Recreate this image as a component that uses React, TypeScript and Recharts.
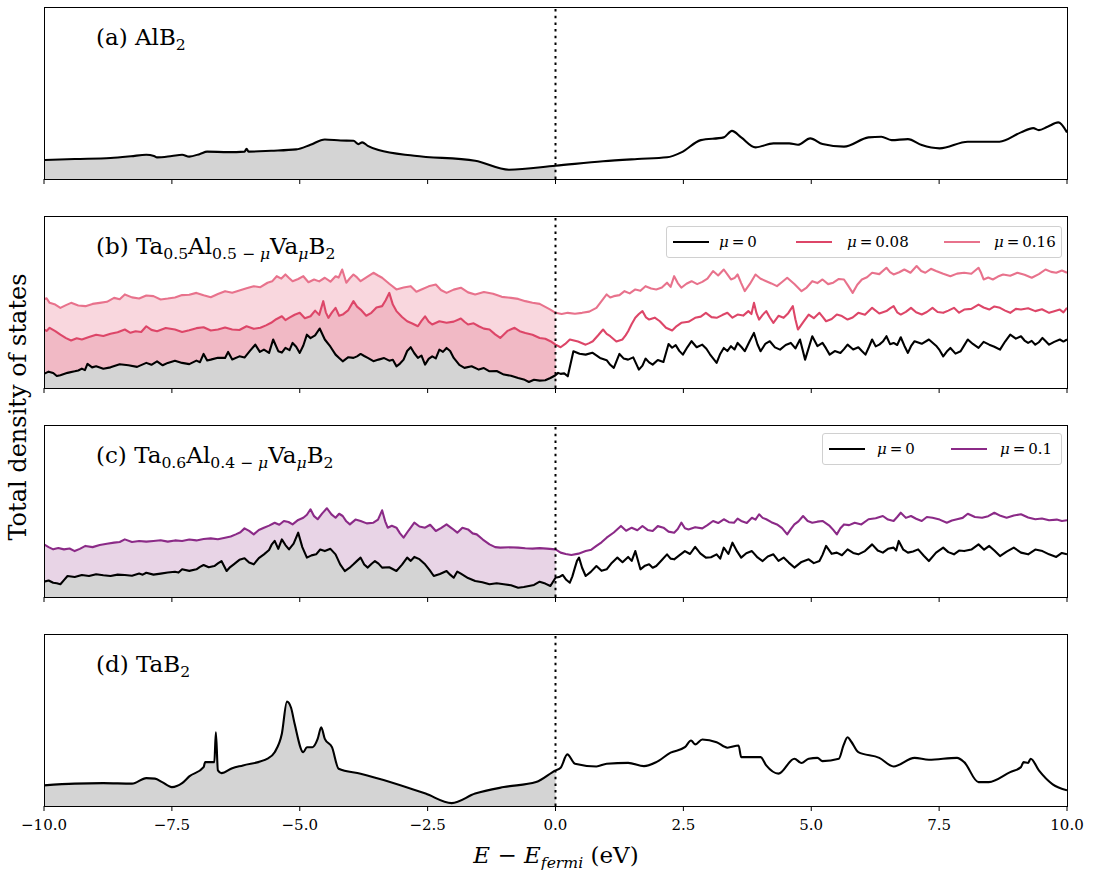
import React from "react";
import { ComposedChart, Line, Area, XAxis, YAxis, ReferenceLine } from "recharts";

type Pt = [number, number];

// energy ticks (eV)
const eTicks = [-10, -7.5, -5, -2.5, 0, 2.5, 5, 7.5, 10];

// DOS, as % of panel height, [E, dos]
const alB2: Pt[] = [
  [-10, 11], [-9.4, 11.6], [-8.7, 12.2], [-8.3, 13.2], [-8.0, 14.1], [-7.85, 13.4], [-7.79, 12.6], [-7.5, 13.4], [-7.3, 14.1],
  [-7.16, 13.0], [-6.95, 14.6], [-6.81, 15.9], [-6.4, 15.6], [-6.08, 15.9], [-6.04, 17.6], [-6.0, 15.9], [-5.56, 16.4], [-5.07, 17.2],
  [-4.79, 19.9], [-4.51, 23.0], [-4.2, 22.4], [-3.95, 22.2], [-3.85, 20.3], [-3.78, 21.3], [-3.67, 19.3], [-3.46, 16.8],
  [-2.76, 13.5], [-1.57, 10.6], [-0.91, 5.4], [0, 7.7], [0.93, 10.3], [1.6, 11.6], [2.18, 12.6], [2.46, 15.5],
  [2.84, 22.6], [3.29, 24.2], [3.45, 28.0], [3.63, 24.2], [3.91, 18.4], [4.26, 20.7], [4.57, 20.7], [4.74, 19.9],
  [4.98, 23.6], [5.22, 20.3], [5.64, 18.8], [6.12, 24.2], [6.37, 24.6], [6.57, 22.6], [6.89, 23.2], [7.16, 19.7],
  [7.51, 17.8], [8.06, 21.7], [8.68, 21.7], [9.1, 27.1], [9.34, 29.6], [9.45, 28.4], [9.62, 30.4], [9.83, 32.9], [10, 27.1],
];

const taB2: Pt[] = [
  [-10, 12], [-9.4, 13], [-8.84, 13.3], [-8.28, 13], [-8.0, 16.2], [-7.83, 15.9], [-7.69, 13.9], [-7.5, 11],
  [-7.3, 13.3], [-7.16, 17.2], [-6.88, 22.6], [-6.85, 25.5], [-6.67, 25.5], [-6.64, 42.9], [-6.6, 20.7], [-6.53, 19.1],
  [-6.32, 22], [-6.11, 23.6], [-5.63, 27.5], [-5.49, 31.3], [-5.35, 42], [-5.25, 60.7], [-5.17, 57.1], [-5.1, 47.8],
  [-4.93, 31.3], [-4.86, 34.2], [-4.75, 34.2], [-4.65, 39], [-4.58, 45.8], [-4.51, 39], [-4.37, 34.2], [-4.24, 21.7],
  [-3.81, 18.8], [-2.54, 7.2], [-2.03, 1.7], [-1.57, 7.2], [-1.01, 11], [-0.38, 13.9], [0, 20.7], [0.1, 22.2],
  [0.23, 30], [0.38, 24.6], [0.8, 23], [1.0, 24.6], [1.42, 25.1], [1.73, 23.2], [1.97, 25.5], [2.25, 31],
  [2.53, 34.2], [2.65, 38.1], [2.73, 35.8], [2.87, 38.7], [3.15, 37.1], [3.36, 33.9], [3.58, 35.2], [3.63, 28.4],
  [4.01, 28.4], [4.12, 23.6], [4.36, 18.8], [4.67, 27.5], [4.81, 25], [4.95, 27.5], [5.12, 28], [5.22, 26.1],
  [5.54, 27.5], [5.63, 35.2], [5.71, 40], [5.78, 37.5], [5.92, 31.3], [6.33, 28], [6.61, 23], [7.02, 28],
  [7.3, 26.9], [7.85, 28], [7.99, 25.5], [8.27, 13.9], [8.47, 13.9], [8.89, 19.7], [9.1, 22.6], [9.15, 25.5],
  [9.24, 25.1], [9.29, 27.5], [9.45, 20.7], [9.72, 12.6], [10, 9.1],
];

// Ta0.5Al0.5-muVamuB2
const b_mu0: Pt[] = [
  [-10, 8.2], [-9.91, 9.5], [-9.82, 8.7], [-9.75, 7.0], [-9.68, 7.4], [-9.54, 8.8], [-9.4, 9.7], [-9.33, 10.2],
  [-9.26, 11.3], [-9.2, 10.4], [-9.15, 14], [-9.06, 12.0], [-8.98, 12.6], [-8.84, 11.2], [-8.7, 12], [-8.52, 13.8],
  [-8.35, 13.2], [-8.18, 12.3], [-8.0, 14.6], [-7.9, 13.5], [-7.79, 15.5], [-7.68, 13.2], [-7.58, 14.6], [-7.44, 15.8],
  [-7.3, 14.6], [-7.16, 13.9], [-7.02, 15.9], [-6.95, 15.0], [-6.88, 19.8], [-6.81, 16.0], [-6.74, 16.5], [-6.6, 17.6],
  [-6.46, 17.5], [-6.4, 21.0], [-6.32, 16.6], [-6.18, 18.4], [-6.08, 17.7], [-5.97, 21.7], [-5.87, 25.2], [-5.78, 21.0],
  [-5.7, 22.3], [-5.6, 20.4], [-5.52, 28.2], [-5.42, 21.4], [-5.35, 20.6], [-5.28, 23.3], [-5.2, 22.0], [-5.14, 26.2],
  [-5.07, 24.0], [-5.0, 20.4], [-4.93, 24.7], [-4.86, 31], [-4.79, 29], [-4.7, 30.6], [-4.61, 34.6], [-4.51, 28.2],
  [-4.4, 24.0], [-4.3, 19.4], [-4.23, 17.4], [-4.16, 15.5], [-4.05, 17.9], [-3.95, 17.5], [-3.88, 18.4], [-3.81, 19.8],
  [-3.74, 18.6], [-3.67, 17.5], [-3.56, 15.6], [-3.46, 16.5], [-3.35, 17.4], [-3.25, 15.9], [-3.18, 16.4], [-3.11, 12.6],
  [-3.04, 14.2], [-2.97, 16.5], [-2.9, 21.5], [-2.83, 23.7], [-2.76, 20.2], [-2.69, 17.5], [-2.62, 18.8], [-2.55, 13.6],
  [-2.48, 16.9], [-2.41, 18.4], [-2.34, 17.2], [-2.27, 22.3], [-2.2, 21.0], [-2.13, 23.3], [-2.06, 21.5], [-1.99, 17.5],
  [-1.88, 13.4], [-1.78, 11.7], [-1.64, 12.6], [-1.5, 10.7], [-1.4, 11.6], [-1.29, 9.7], [-1.15, 9.9], [-1.01, 7.8],
  [-0.87, 7.1], [-0.73, 5.8], [-0.62, 5.0], [-0.52, 3.5], [-0.42, 4.8], [-0.31, 4.3], [-0.2, 4.5], [-0.1, 5.8], [0, 7.4],
  [0.05, 8.8], [0.1, 8.2], [0.17, 8.5], [0.24, 6.8], [0.35, 21.4], [0.47, 19.9], [0.59, 19.4], [0.72, 20.5],
  [0.87, 17.5], [1.0, 16.2], [1.07, 13.5], [1.14, 11.7], [1.25, 19.8], [1.33, 17.2], [1.42, 16.5], [1.52, 17.8],
  [1.63, 10.7], [1.7, 13.0], [1.76, 17.1], [1.83, 14.9], [1.9, 13.6], [2.0, 16.3], [2.11, 15.1], [2.21, 25.6],
  [2.28, 23.4], [2.35, 24.9], [2.42, 21.6], [2.49, 19.4], [2.58, 23.8], [2.66, 27.2], [2.76, 23.7], [2.87, 25.2],
  [2.95, 22.8], [3.02, 19.6], [3.15, 14.6], [3.22, 19.8], [3.29, 23.3], [3.36, 21.5], [3.43, 24.3], [3.5, 22.4],
  [3.56, 26.2], [3.63, 24.0], [3.7, 21.4], [3.8, 27.5], [3.88, 32], [3.95, 25.3], [4.01, 21.4], [4.1, 25.6],
  [4.19, 27.2], [4.29, 23.6], [4.39, 22.3], [4.5, 25.0], [4.6, 26.2], [4.69, 23.0], [4.78, 28.2], [4.88, 16.5],
  [5.02, 30.1], [5.12, 24.4], [5.22, 26.2], [5.29, 23.0], [5.36, 19.4], [5.46, 21.5], [5.57, 20.4], [5.64, 22.6],
  [5.71, 25.2], [5.82, 22.4], [5.92, 23.7], [5.99, 21.5], [6.06, 19.4], [6.13, 24.0], [6.19, 28.2], [6.26, 24.2],
  [6.33, 25.2], [6.4, 27.0], [6.47, 30.1], [6.54, 25.5], [6.61, 26.2], [6.68, 25.0], [6.75, 29.5], [6.82, 24.6],
  [6.89, 20.4], [6.95, 24.3], [7.02, 27.2], [7.16, 25.7], [7.3, 28.2], [7.44, 24.6], [7.51, 22.0], [7.58, 18.4],
  [7.65, 21.2], [7.72, 23.3], [7.82, 20.0], [7.92, 21.4], [7.99, 24.8], [8.06, 28.2], [8.16, 25.6], [8.27, 23.3],
  [8.37, 26.8], [8.48, 25.2], [8.58, 24.0], [8.69, 22.3], [8.79, 27.0], [8.89, 31], [9.0, 28.7], [9.1, 30.1],
  [9.17, 27.6], [9.24, 26.2], [9.31, 27.4], [9.38, 25.2], [9.45, 26.6], [9.52, 29.1], [9.58, 27.3], [9.65, 25.2],
  [9.75, 26.8], [9.86, 28.2], [9.93, 27.0], [10, 28.2],
];

const b_mu008: Pt[] = [
  [-10, 34], [-9.95, 33.2], [-9.89, 35], [-9.78, 33.1], [-9.68, 31], [-9.57, 29.0], [-9.47, 27.6], [-9.36, 28.9],
  [-9.26, 28.2], [-9.12, 29.6], [-8.98, 31], [-8.84, 30.2], [-8.7, 31.5], [-8.56, 32.4], [-8.42, 34], [-8.31, 32.1],
  [-8.21, 33], [-8.1, 32.6], [-8.0, 35.9], [-7.9, 33.8], [-7.79, 33], [-7.62, 34.9], [-7.44, 34], [-7.3, 32.6],
  [-7.16, 33.6], [-7.02, 34.8], [-6.88, 35.3], [-6.74, 33.4], [-6.6, 34], [-6.46, 35.2], [-6.32, 34], [-6.18, 33.7],
  [-6.04, 35.9], [-5.9, 34.4], [-5.77, 35], [-5.66, 36.4], [-5.56, 37.9], [-5.46, 40.0], [-5.35, 41.7], [-5.28, 39.5],
  [-5.21, 40.8], [-5.1, 42.6], [-5.0, 43.7], [-4.9, 40.6], [-4.79, 41.7], [-4.7, 45.0], [-4.62, 42.5], [-4.54, 50.5],
  [-4.49, 44.0], [-4.44, 40.8], [-4.37, 44.0], [-4.3, 46.6], [-4.23, 42.0], [-4.16, 42.7], [-4.05, 45.3], [-3.95, 50.5],
  [-3.88, 47.3], [-3.81, 45.6], [-3.7, 42.0], [-3.6, 43.7], [-3.5, 46.8], [-3.39, 47.6], [-3.32, 51.0], [-3.25, 55.3],
  [-3.18, 48.5], [-3.11, 44.7], [-3.0, 41.3], [-2.9, 38.8], [-2.8, 37.5], [-2.69, 35.9], [-2.62, 39.0], [-2.55, 41.7],
  [-2.48, 38.6], [-2.41, 36.9], [-2.27, 38.8], [-2.13, 37.9], [-1.99, 38.6], [-1.85, 40.4], [-1.78, 38.5], [-1.71, 36.9],
  [-1.6, 37.6], [-1.5, 35.9], [-1.4, 34.5], [-1.29, 34], [-1.18, 31.2], [-1.08, 29.1], [-0.94, 33.2], [-0.8, 35],
  [-0.7, 33.0], [-0.59, 32], [-0.45, 31.0], [-0.31, 29.1], [-0.2, 28.6], [-0.1, 27.2], [0, 25.2],
  [0.1, 23.7], [0.19, 25.6], [0.28, 28.2], [0.44, 27.0], [0.59, 25.2], [0.66, 26.1], [0.73, 27.2], [0.83, 30.5],
  [0.93, 34], [1.0, 31.5], [1.07, 30.1], [1.19, 27.0], [1.31, 28.2], [1.37, 30.6], [1.42, 33], [1.49, 37.2],
  [1.56, 40.8], [1.63, 43.0], [1.7, 44.7], [1.77, 41.0], [1.83, 39.8], [1.94, 40.9], [2.04, 38.8], [2.16, 35.0],
  [2.28, 33.4], [2.37, 36.0], [2.46, 37.9], [2.6, 38.5], [2.73, 40.8], [2.84, 41.5], [2.94, 43.7], [3.05, 41.2],
  [3.15, 40.8], [3.26, 42.4], [3.36, 43.7], [3.46, 40.9], [3.56, 42.7], [3.67, 42.1], [3.77, 44.7], [3.83, 43.0],
  [3.88, 49.5], [3.93, 43.5], [3.98, 39.8], [4.05, 42.5], [4.12, 44.7], [4.19, 41.0], [4.26, 37.9], [4.36, 42.0],
  [4.46, 40.8], [4.55, 43.5], [4.64, 47.6], [4.69, 40.0], [4.74, 34], [4.85, 38.6], [4.95, 42.7], [5.05, 40.6],
  [5.16, 43.7], [5.22, 41.5], [5.29, 38.8], [5.4, 40.1], [5.5, 42.7], [5.6, 41.8], [5.71, 39.8], [5.81, 41.0],
  [5.92, 43.7], [6.05, 42.6], [6.19, 46.6], [6.33, 43.3], [6.47, 44.7], [6.54, 46.3], [6.61, 47.6], [6.68, 44.0],
  [6.75, 42.7], [6.85, 44.3], [6.95, 46.6], [7.05, 44.0], [7.16, 42.7], [7.26, 44.2], [7.37, 46.6], [7.47, 44.2],
  [7.58, 43.7], [7.68, 45.0], [7.79, 46.6], [7.89, 43.8], [7.99, 45.6], [8.13, 46.0], [8.27, 48.5], [8.37, 46.8],
  [8.48, 45.6], [8.58, 47.4], [8.69, 46.6], [8.79, 45.0], [8.89, 43.7], [9.0, 46.0], [9.1, 45.6], [9.24, 46.4],
  [9.38, 44.7], [9.51, 45.8], [9.65, 43.7], [9.75, 44.6], [9.86, 45.6], [9.93, 44.0], [10, 46.6],
];

const b_mu016: Pt[] = [
  [-10, 51.5], [-9.95, 52.2], [-9.89, 49.5], [-9.78, 48.5], [-9.68, 46.6], [-9.57, 48.2], [-9.47, 49.5], [-9.33, 48.0],
  [-9.19, 47.6], [-9.05, 48.9], [-8.91, 49.5], [-8.77, 50.1], [-8.63, 52.4], [-8.52, 51.6], [-8.42, 54.4], [-8.28, 52.7],
  [-8.14, 52], [-8.0, 53.8], [-7.86, 53.4], [-7.72, 51.5], [-7.58, 52], [-7.44, 52.6], [-7.3, 54], [-7.16, 54.2],
  [-7.02, 55.3], [-6.88, 53.9], [-6.74, 52.8], [-6.6, 54.6], [-6.46, 56.3], [-6.32, 55.4], [-6.18, 56.7], [-6.04, 58.0],
  [-5.9, 59.2], [-5.77, 58.6], [-5.63, 61.2], [-5.54, 62.0], [-5.45, 65], [-5.36, 63.6], [-5.28, 66], [-5.21, 64.0],
  [-5.14, 62.1], [-5.03, 63.4], [-4.93, 65], [-4.83, 61.5], [-4.72, 63.1], [-4.62, 62.0], [-4.51, 64.1], [-4.4, 61.8],
  [-4.3, 65], [-4.24, 64.2], [-4.17, 68.9], [-4.09, 61.2], [-4.02, 63.8], [-3.95, 66], [-3.88, 64.3], [-3.81, 62.1],
  [-3.69, 64.5], [-3.56, 67], [-3.47, 65.4], [-3.39, 64.1], [-3.25, 60.6], [-3.11, 57.3], [-2.97, 58.4], [-2.83, 59.2],
  [-2.72, 56.0], [-2.62, 57.3], [-2.48, 59.1], [-2.34, 60.2], [-2.24, 57.0], [-2.13, 55.3], [-1.99, 57.2], [-1.85, 58.3],
  [-1.71, 55.6], [-1.57, 54.4], [-1.4, 55.8], [-1.22, 54.8], [-1.05, 53.0], [-0.87, 52.4], [-0.73, 51.8], [-0.59, 50.5],
  [-0.45, 49.6], [-0.31, 48.9], [-0.2, 47.2], [-0.1, 45.6], [0, 43.7],
  [0.12, 43.0], [0.24, 43.7], [0.38, 43.2], [0.52, 43.7], [0.66, 44.4], [0.8, 46.6], [0.9, 50.5], [1.0, 54.4],
  [1.07, 52.6], [1.14, 53.4], [1.25, 54.0], [1.35, 56.3], [1.45, 55.0], [1.56, 57.3], [1.66, 56.5], [1.76, 59.2],
  [1.87, 57.8], [1.97, 57.3], [2.08, 58.4], [2.18, 61.2], [2.25, 58.8], [2.32, 65], [2.39, 61.0], [2.46, 58.3],
  [2.56, 60.6], [2.66, 62.1], [2.77, 60.4], [2.87, 61.7], [2.97, 63.6], [3.08, 68], [3.18, 65.4], [3.29, 68.9],
  [3.36, 66.0], [3.43, 63.1], [3.5, 63.9], [3.56, 66], [3.63, 61.0], [3.7, 56.3], [3.8, 60.5], [3.91, 66],
  [4.01, 63.5], [4.12, 62.1], [4.22, 60.8], [4.33, 59.2], [4.43, 61.6], [4.53, 64.1], [4.67, 60.5], [4.81, 56.3],
  [4.91, 58.4], [5.02, 62.1], [5.12, 61.0], [5.22, 63.1], [5.33, 60.4], [5.43, 61.2], [5.54, 63.4], [5.64, 63.1],
  [5.72, 59.5], [5.81, 55.3], [5.9, 60.0], [5.99, 63.1], [6.09, 64.4], [6.19, 67], [6.33, 66.2], [6.47, 69.9],
  [6.54, 67.4], [6.61, 66], [6.72, 67.3], [6.82, 68.9], [6.94, 67.0], [7.06, 70.9], [7.15, 68.0], [7.23, 67],
  [7.34, 69.3], [7.44, 68], [7.58, 66.4], [7.72, 65], [7.85, 66.5], [7.99, 67], [8.13, 66.4], [8.27, 69.9],
  [8.32, 67.0], [8.37, 63.1], [8.46, 64.2], [8.55, 63.1], [8.65, 64.8], [8.75, 66], [8.89, 65.3], [9.03, 67],
  [9.17, 65.8], [9.31, 64.1], [9.45, 66.2], [9.58, 68.9], [9.69, 67.5], [9.79, 67], [9.9, 68.3], [10, 67],
];

// Ta0.6Al0.4-muVamuB2
const c_mu0: Pt[] = [
  [-10, 8.9], [-9.91, 9.6], [-9.82, 8.3], [-9.75, 8.0], [-9.68, 7.4], [-9.61, 9.8], [-9.54, 12.2], [-9.4, 11.6],
  [-9.26, 12.8], [-9.12, 12.2], [-8.98, 13.2], [-8.84, 12.6], [-8.7, 12.2], [-8.56, 13.0], [-8.42, 12.8], [-8.28, 12.4],
  [-8.14, 13.6], [-8.07, 13.0], [-8.0, 14.1], [-7.86, 13.0], [-7.72, 13.6], [-7.58, 14.2], [-7.44, 14.7], [-7.37, 14.2],
  [-7.3, 16.1], [-7.16, 15.2], [-7.02, 16.1], [-6.95, 17.5], [-6.88, 18.6], [-6.78, 17.3], [-6.67, 18], [-6.6, 19.5],
  [-6.53, 20.9], [-6.43, 15.1], [-6.36, 17.4], [-6.29, 19], [-6.18, 21.6], [-6.08, 22.5], [-5.99, 20.0], [-5.9, 19],
  [-5.8, 22.6], [-5.7, 24.8], [-5.6, 27.3], [-5.55, 30.4], [-5.49, 32.6], [-5.42, 28.0], [-5.35, 33.5], [-5.28, 30.2],
  [-5.21, 27.7], [-5.12, 31.0], [-5.03, 37.4], [-4.95, 29.0], [-4.86, 22.9], [-4.77, 24.2], [-4.68, 24.8], [-4.6, 27.6],
  [-4.51, 26.7], [-4.4, 28.0], [-4.3, 24.8], [-4.21, 19.0], [-4.12, 15.1], [-4.03, 16.9], [-3.95, 19], [-3.88, 21.0],
  [-3.81, 22.9], [-3.74, 18.9], [-3.67, 17.1], [-3.6, 19.2], [-3.53, 20.9], [-3.46, 19.4], [-3.39, 17.1], [-3.25, 17.3],
  [-3.11, 15.1], [-3.0, 18.8], [-2.9, 22.9], [-2.83, 21.0], [-2.76, 23.3], [-2.66, 22.0], [-2.55, 19], [-2.46, 15.6],
  [-2.38, 12.2], [-2.26, 13.4], [-2.13, 15.1], [-2.06, 13.0], [-1.99, 11.2], [-1.92, 14.8], [-1.85, 13.6], [-1.71, 11.0],
  [-1.57, 9.3], [-1.43, 8.6], [-1.29, 7.4], [-1.15, 8.0], [-1.01, 7.4], [-0.87, 6.8], [-0.73, 5.4], [-0.62, 5.8],
  [-0.52, 6.4], [-0.42, 7.0], [-0.31, 8.9], [-0.2, 7.8], [-0.1, 6.4], [0, 11.2],
  [0.07, 11.6], [0.14, 12.8], [0.21, 10.0], [0.28, 8.3], [0.33, 12.0], [0.38, 17.1], [0.42, 21.0], [0.46, 22.9],
  [0.52, 17.0], [0.59, 12.2], [0.69, 14.6], [0.8, 18], [0.9, 15.2], [1.0, 16.1], [1.1, 19.8], [1.21, 22.9],
  [1.31, 20.2], [1.42, 23.3], [1.49, 21.0], [1.56, 26.7], [1.66, 16.1], [1.75, 18.2], [1.83, 19], [1.9, 17.0],
  [1.97, 18], [2.08, 21.5], [2.18, 24.8], [2.25, 22.3], [2.32, 21.9], [2.42, 24.2], [2.53, 26.7], [2.63, 25.0],
  [2.73, 29.1], [2.83, 25.4], [2.94, 22.9], [3.04, 23.1], [3.15, 24.8], [3.22, 22.3], [3.29, 28.7], [3.38, 25.0],
  [3.46, 31.6], [3.55, 26.5], [3.63, 22.9], [3.73, 25.4], [3.84, 26.7], [3.95, 23.0], [4.05, 20.9], [4.15, 23.5],
  [4.26, 24.8], [4.36, 21.0], [4.46, 22.9], [4.56, 20.0], [4.67, 17.1], [4.81, 20.4], [4.95, 21.9], [5.05, 19.7],
  [5.16, 20.9], [5.22, 24.5], [5.29, 29.7], [5.4, 25.1], [5.5, 25.8], [5.6, 24.3], [5.71, 27.7], [5.82, 25.6],
  [5.92, 24.8], [6.05, 26.7], [6.19, 30.6], [6.3, 27.0], [6.4, 25.8], [6.5, 28.0], [6.61, 28.7], [6.66, 27.0],
  [6.71, 32.6], [6.8, 27.5], [6.89, 25.8], [6.99, 26.5], [7.09, 27.7], [7.2, 24.0], [7.3, 20.9], [7.44, 25.8],
  [7.58, 28.7], [7.68, 26.1], [7.79, 24.8], [7.89, 27.0], [7.99, 26.7], [8.13, 27.6], [8.27, 30.6], [8.38, 27.5],
  [8.48, 29.7], [8.58, 27.0], [8.69, 23.8], [8.82, 26.4], [8.96, 28.7], [9.1, 25.8], [9.24, 24.8], [9.38, 27.6],
  [9.52, 26.7], [9.65, 24.8], [9.79, 23.3], [9.9, 25.6], [10, 24.8],
];

const c_mu01: Pt[] = [
  [-10, 30.6], [-9.91, 29.0], [-9.82, 27.7], [-9.72, 28.5], [-9.61, 27.7], [-9.5, 28.2], [-9.4, 26.7], [-9.3, 28.0],
  [-9.19, 29.7], [-9.05, 29.0], [-8.91, 30.2], [-8.77, 31.0], [-8.63, 31.6], [-8.52, 32.0], [-8.42, 33.5], [-8.28, 32.0],
  [-8.14, 32.6], [-8.0, 32.2], [-7.86, 32.6], [-7.72, 33.0], [-7.58, 32.2], [-7.44, 32.9], [-7.3, 32.6], [-7.16, 33.4],
  [-7.02, 32.9], [-6.88, 33.7], [-6.74, 34.1], [-6.6, 33.6], [-6.46, 34.5], [-6.35, 35.2], [-6.25, 36.4], [-6.16, 37.6],
  [-6.08, 39.9], [-5.99, 38.4], [-5.9, 36.4], [-5.8, 39.0], [-5.7, 40.3], [-5.6, 41.5], [-5.49, 43.2], [-5.4, 42.0],
  [-5.31, 44.2], [-5.22, 43.6], [-5.14, 42.2], [-5.03, 44.8], [-4.93, 46.1], [-4.86, 47.8], [-4.79, 51], [-4.72, 47.0],
  [-4.65, 45.2], [-4.56, 48.6], [-4.47, 51.6], [-4.38, 48.0], [-4.3, 46.1], [-4.23, 48.4], [-4.16, 47.1], [-4.09, 44.0],
  [-4.02, 42.2], [-3.91, 45.0], [-3.81, 44.2], [-3.69, 42.8], [-3.56, 43.2], [-3.47, 45.0], [-3.39, 50.4], [-3.33, 44.0],
  [-3.28, 40.3], [-3.2, 41.4], [-3.11, 40.3], [-3.04, 37.0], [-2.97, 34.5], [-2.87, 38.8], [-2.76, 43.2], [-2.66, 41.0],
  [-2.55, 40.3], [-2.45, 42.0], [-2.34, 38.4], [-2.24, 40.0], [-2.13, 42.2], [-2.02, 39.8], [-1.92, 37.4], [-1.82, 40.2],
  [-1.71, 39.3], [-1.62, 37.0], [-1.54, 36.4], [-1.42, 33.4], [-1.29, 30.6], [-1.18, 29.0], [-1.08, 28.7], [-0.9, 28.9],
  [-0.73, 28.7], [-0.59, 28.3], [-0.45, 28.1], [-0.31, 28.4], [-0.17, 28.1], [0, 27.7],
  [0.1, 25.8], [0.2, 25.0], [0.31, 24.4], [0.45, 25.2], [0.59, 26.7], [0.7, 27.5], [0.8, 29.7], [0.9, 31.8],
  [1.0, 34.5], [1.14, 37.5], [1.28, 41.3], [1.38, 38.5], [1.49, 40.3], [1.6, 38.8], [1.7, 41.3], [1.8, 39.0],
  [1.9, 38.4], [2.0, 41.2], [2.11, 40.3], [2.21, 38.0], [2.32, 37.4], [2.39, 39.5], [2.46, 43.2], [2.53, 40.0],
  [2.6, 39.3], [2.73, 40.6], [2.87, 39.9], [2.97, 41.8], [3.08, 44.2], [3.18, 43.0], [3.29, 45.2], [3.39, 43.5],
  [3.49, 43.2], [3.56, 45.6], [3.63, 44.2], [3.74, 43.0], [3.84, 46.1], [3.91, 45.0], [3.98, 48.1], [4.05, 46.0],
  [4.12, 45.2], [4.22, 43.5], [4.33, 42.2], [4.43, 40.0], [4.53, 36.4], [4.6, 39.5], [4.67, 42.2], [4.75, 44.0],
  [4.84, 47.1], [4.93, 44.2], [5.02, 43.2], [5.12, 43.8], [5.22, 44.2], [5.29, 42.8], [5.36, 41.3], [5.43, 39.0],
  [5.5, 36.4], [5.57, 40.0], [5.64, 42.2], [5.74, 41.8], [5.85, 43.2], [5.98, 42.2], [6.12, 45.2], [6.26, 45.8],
  [6.4, 47.1], [6.5, 45.0], [6.61, 44.2], [6.68, 46.5], [6.75, 49], [6.85, 46.0], [6.95, 47.1], [7.05, 45.5],
  [7.16, 44.2], [7.26, 46.5], [7.37, 46.1], [7.51, 45.0], [7.65, 43.2], [7.75, 44.5], [7.85, 45.2], [7.96, 46.0],
  [8.06, 48.4], [8.2, 46.5], [8.34, 46.1], [8.46, 47.0], [8.58, 49], [8.7, 47.2], [8.82, 46.1], [8.96, 47.4],
  [9.1, 48.1], [9.24, 46.2], [9.38, 45.2], [9.51, 45.6], [9.65, 44.6], [9.8, 45.0], [9.9, 44.2], [10, 44.6],
];

const FONT = "'DejaVu Serif', serif";
const GRAY = "#d4d4d4";

type Series = { pts: Pt[]; color: string; fill?: string };
type Curve = "linear" | "monotone";

const rows = (pts: Pt[]) => pts.map(([e, v]) => ({ e, v }));
const occupied = (pts: Pt[]) => rows(pts.filter(([e]) => e <= 0));
const fmtTick = (v: number) => (v < 0 ? "\u2212" + Math.abs(v).toFixed(1) : v.toFixed(1));

function Sub({ children }: { children: React.ReactNode }) {
  return <span style={{ fontSize: "0.68em", position: "relative", top: "0.3em" }}>{children}</span>;
}

function Panel({ top, series, labels, curve = "linear" }: { top: number; series: Series[]; labels?: boolean; curve?: Curve }) {
  // chart div starts 7px above the plot frame
  return (
    <div style={{ position: "absolute", left: 0, top: top - 7, width: 1095, height: 210 }}>
      <ComposedChart width={1095} height={210} margin={{ top: 7, right: 28, bottom: 0, left: 44 }}>
        <XAxis
          type="number"
          dataKey="e"
          domain={[-10, 10]}
          ticks={eTicks}
          interval={0}
          allowDataOverflow
          axisLine={false}
          tickLine={{ stroke: "#000", strokeWidth: 1 }}
          tickSize={5}
          tickMargin={8}
          height={31}
          tickFormatter={labels ? fmtTick : () => ""}
          tick={{ fill: "#000", fontSize: 15, fontFamily: FONT }}
        />
        <YAxis type="number" domain={[0, 100]} hide allowDataOverflow />
        {series
          .slice()
          .reverse()
          .map((s, i) => (
            <Area
              key={"f" + i}
              data={occupied(s.pts)}
              dataKey="v"
              type={curve}
              stroke="none"
              fill={s.fill}
              fillOpacity={1}
              isAnimationActive={false}
            />
          ))}
        {series.map((s, i) => (
          <Line
            key={"l" + i}
            data={rows(s.pts)}
            dataKey="v"
            type={curve}
            stroke={s.color}
            strokeWidth={2.1}
            strokeLinejoin="round"
            dot={false}
            isAnimationActive={false}
          />
        ))}
        <ReferenceLine x={0} stroke="#000" strokeWidth={2} strokeDasharray="2.5 4.2" />
      </ComposedChart>
      <div
        style={{
          position: "absolute",
          left: 44,
          top: 7,
          width: 1024,
          height: 173,
          border: "1px solid #000",
          boxSizing: "border-box",
          pointerEvents: "none",
        }}
      />
    </div>
  );
}

function Title({ top, children }: { top: number; children: React.ReactNode }) {
  return (
    <div style={{ position: "absolute", left: 96, top: top + 19, fontSize: 23, fontFamily: FONT, whiteSpace: "nowrap", lineHeight: 1 }}>
      {children}
    </div>
  );
}

function LegendBox({ left, top, width, items }: { left: number; top: number; width: number; items: { color: string; label: string; h: number; t: number }[] }) {
  return (
    <div
      style={{
        position: "absolute",
        left,
        top,
        width,
        height: 32,
        border: "1px solid #d0d0d0",
        borderRadius: 3,
        background: "rgba(255,255,255,0.85)",
        boxSizing: "border-box",
        fontFamily: FONT,
        fontSize: 15,
      }}
    >
      {items.map((it) => (
        <React.Fragment key={it.label}>
          <div style={{ position: "absolute", left: it.h, top: 14, width: 36, height: 0, borderTop: `2px solid ${it.color}` }} />
          <div style={{ position: "absolute", left: it.t, top: 6, whiteSpace: "nowrap", lineHeight: 1.2 }}>
            <i>μ</i>
            {"\u2009=\u2009" + it.label}
          </div>
        </React.Fragment>
      ))}
    </div>
  );
}

export default function App() {
  return (
    <div style={{ position: "absolute", left: 0, top: 0, width: 1095, height: 870, background: "#fff", fontFamily: FONT }}>
      <Panel top={7} curve="monotone" series={[{ pts: alB2, color: "#000", fill: GRAY }]} />
      <Panel
        top={216}
        series={[
          { pts: b_mu0, color: "#000", fill: GRAY },
          { pts: b_mu008, color: "#dd4668", fill: "#f1b9c5" },
          { pts: b_mu016, color: "#e8728c", fill: "#f9d7de" },
        ]}
      />
      <Panel
        top={425}
        series={[
          { pts: c_mu0, color: "#000", fill: GRAY },
          { pts: c_mu01, color: "#8b2a87", fill: "#e8d4e6" },
        ]}
      />
      <Panel top={634} curve="monotone" series={[{ pts: taB2, color: "#000", fill: GRAY }]} labels />

      <Title top={7}>
        (a) AlB<Sub>2</Sub>
      </Title>
      <Title top={216}>
        (b) Ta<Sub>0.5</Sub>Al<Sub>0.5 − <i>μ</i></Sub>Va<Sub><i>μ</i></Sub>B<Sub>2</Sub>
      </Title>
      <Title top={425}>
        (c) Ta<Sub>0.6</Sub>Al<Sub>0.4 − <i>μ</i></Sub>Va<Sub><i>μ</i></Sub>B<Sub>2</Sub>
      </Title>
      <Title top={634}>
        (d) TaB<Sub>2</Sub>
      </Title>

      <LegendBox
        left={666}
        top={226}
        width={396}
        items={[
          { color: "#000", label: "0", h: 6, t: 52 },
          { color: "#dd4668", label: "0.08", h: 129, t: 180 },
          { color: "#e8728c", label: "0.16", h: 277, t: 327 },
        ]}
      />
      <LegendBox
        left={822}
        top={433}
        width={240}
        items={[
          { color: "#000", label: "0", h: 6, t: 54 },
          { color: "#8b2a87", label: "0.1", h: 128, t: 177 },
        ]}
      />

      <div
        style={{
          position: "absolute",
          left: 18,
          top: 407,
          transform: "translate(-50%, -50%) rotate(-90deg)",
          fontSize: 24,
          whiteSpace: "nowrap",
          lineHeight: 1,
        }}
      >
        Total density of states
      </div>
      <div
        style={{
          position: "absolute",
          left: 556,
          top: 855,
          transform: "translate(-50%, -50%)",
          fontSize: 23,
          whiteSpace: "nowrap",
          lineHeight: 1,
        }}
      >
        <i>E</i> − <i>E</i>
        <Sub>
          <i>fermi</i>
        </Sub>{" "}
        (eV)
      </div>
    </div>
  );
}
